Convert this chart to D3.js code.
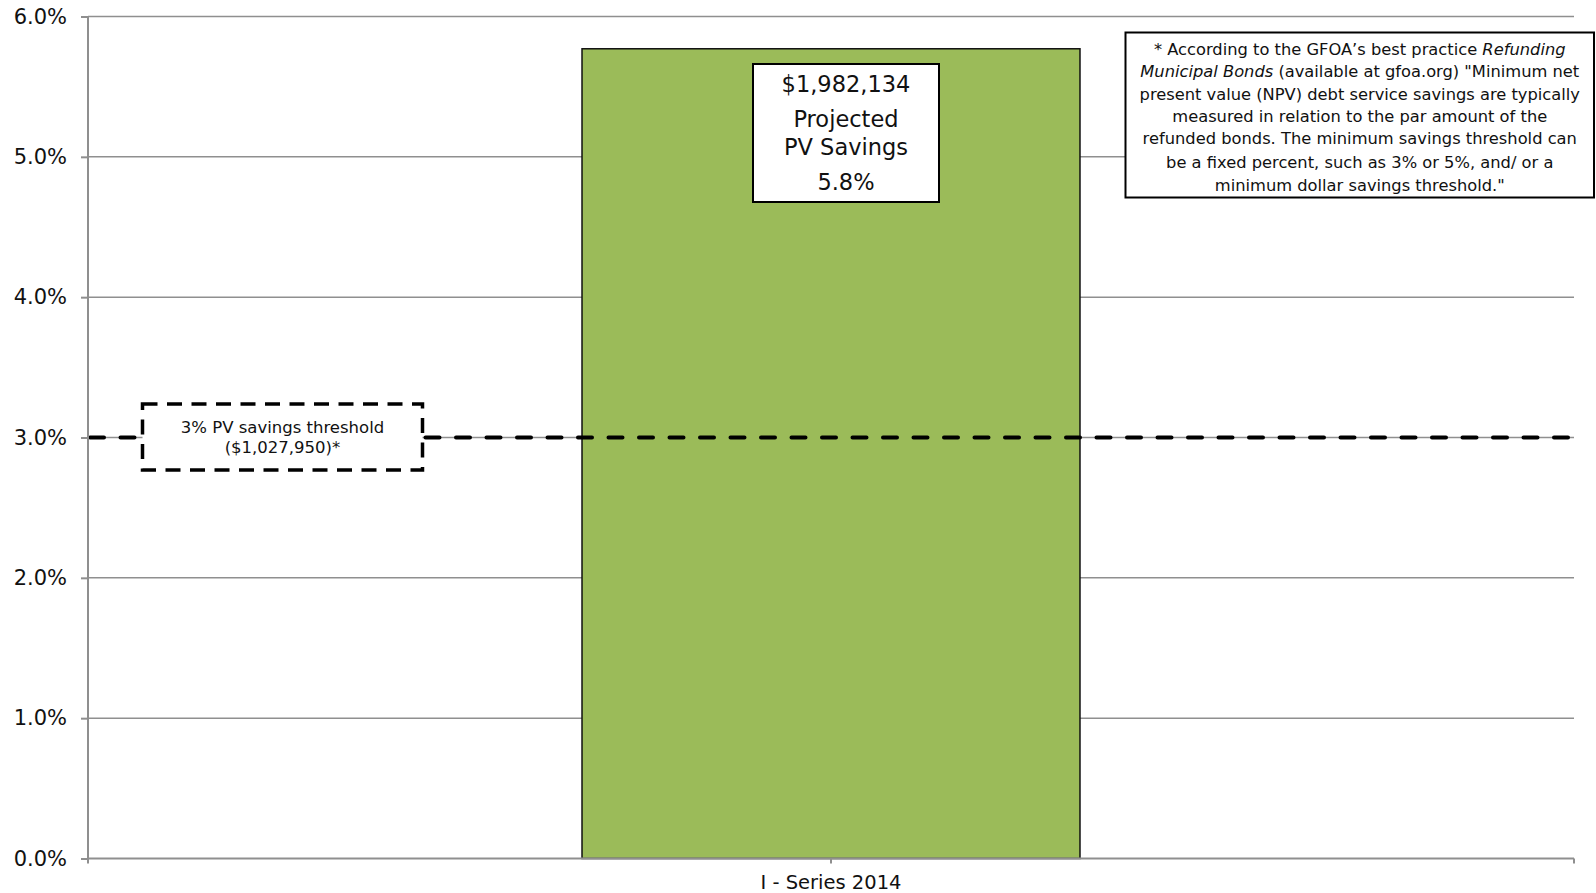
<!DOCTYPE html>
<html>
<head>
<meta charset="utf-8">
<script src="https://cdn.jsdelivr.net/npm/d3@7"></script>
<style>
  html, body { margin: 0; padding: 0; background: #fff; }
  svg { display: block; }
  text { font-family: "DejaVu Sans", "Liberation Sans", sans-serif; fill: #111; }
</style>
</head>
<body>
<svg id="chart" width="1596" height="893"></svg>
<script>
// Refunding savings vs. the 3% present-value threshold
const categories = ["I - Series 2014"];
const savingsPct = [5.77];
const savingsDollars = [1982134];
const thresholdPct = 3;
const thresholdDollars = 1027950;
const yTicks = [0, 1, 2, 3, 4, 5, 6];

// footnote box: each line is a list of [text, italic]
const noteLines = [
  [["* According to the GFOA\u2019s best practice ", false], ["Refunding", true]],
  [["Municipal Bonds", true], [" (available at gfoa.org) \"Minimum net", false]],
  [["present value (NPV) debt service savings are typically", false]],
  [["measured in relation to the par amount of the", false]],
  [["refunded bonds. The minimum savings threshold can", false]],
  [["be a fixed percent, such as 3% or 5%, and/ or a", false]],
  [["minimum dollar savings threshold.\"", false]]
];

const svg = d3.select("#chart");
const margin = { left: 88, right: 22, top: 16.5, bottom: 34.5 };
const W = 1596, H = 893;
const x0 = margin.left, x1 = W - margin.right;
const y0 = H - margin.bottom, y1 = margin.top;

const x = d3.scaleBand().domain(categories).range([x0, x1]).paddingInner(0.498).paddingOuter(0.498);
const y = d3.scaleLinear().domain([0, 6]).range([y0, y1]);

const pctFmt = d3.format(".1f");
const dollarFmt = d3.format("$,");

// horizontal gridlines
svg.append("g")
  .selectAll("line")
  .data(yTicks.filter(d => d > 0))
  .join("line")
  .attr("x1", x0).attr("x2", x1)
  .attr("y1", d => y(d)).attr("y2", d => y(d))
  .attr("stroke", "#8f8f8f")
  .attr("stroke-width", 1.5);

// savings bar
svg.append("g")
  .selectAll("rect")
  .data(categories.map((c, i) => ({ c, v: savingsPct[i] })))
  .join("rect")
  .attr("x", d => x(d.c))
  .attr("width", x.bandwidth())
  .attr("y", d => y(d.v))
  .attr("height", d => y(0) - y(d.v))
  .attr("fill", "#9bbb59")
  .attr("stroke", "#111")
  .attr("stroke-width", 1.5);

// threshold line
svg.append("line")
  .attr("x1", x0 + 2).attr("x2", x1)
  .attr("y1", y(thresholdPct)).attr("y2", y(thresholdPct))
  .attr("stroke", "#000")
  .attr("stroke-width", 4)
  .attr("stroke-linecap", "round")
  .attr("stroke-dasharray", "14 16.5");

// threshold label box
const tb = { x: 142.5, y: 404, w: 280, h: 66 };
svg.append("rect")
  .attr("x", tb.x).attr("y", tb.y).attr("width", tb.w).attr("height", tb.h)
  .attr("fill", "#fff")
  .attr("stroke", "#000")
  .attr("stroke-width", 3.5)
  .attr("stroke-dasharray", "15 9.5");
const tbText = svg.append("text")
  .attr("text-anchor", "middle")
  .attr("font-size", 16.5);
tbText.append("tspan").attr("x", tb.x + tb.w / 2).attr("y", 432.5)
  .text(`${thresholdPct}% PV savings threshold`);
tbText.append("tspan").attr("x", tb.x + tb.w / 2).attr("y", 453)
  .text(`(${dollarFmt(thresholdDollars)})*`);

// savings label box inside the bar, set slightly right of the bar centre
const cx = x(categories[0]) + x.bandwidth() / 2 + 15;
const lb = { w: 186, h: 138, y: 64 };
svg.append("rect")
  .attr("x", cx - lb.w / 2).attr("y", lb.y).attr("width", lb.w).attr("height", lb.h)
  .attr("fill", "#fff")
  .attr("stroke", "#000")
  .attr("stroke-width", 2);
const lbLines = [
  { t: dollarFmt(savingsDollars[0]), y: 92 },
  { t: "Projected", y: 127 },
  { t: "PV Savings", y: 154.5 },
  { t: pctFmt(savingsPct[0]) + "%", y: 190 }
];
svg.append("g")
  .selectAll("text")
  .data(lbLines)
  .join("text")
  .attr("x", cx)
  .attr("y", d => d.y)
  .attr("text-anchor", "middle")
  .attr("font-size", 22.5)
  .text(d => d.t);

// footnote box
const nb = { x: 1125.5, y: 32.5, w: 468.5, h: 165 };
svg.append("rect")
  .attr("x", nb.x).attr("y", nb.y).attr("width", nb.w).attr("height", nb.h)
  .attr("fill", "#fff")
  .attr("stroke", "#000")
  .attr("stroke-width", 2);
const noteY = [54.5, 77, 99.5, 121.5, 144, 168, 190.5];
const note = svg.append("text")
  .attr("text-anchor", "middle")
  .attr("font-size", 16.3);
noteLines.forEach((parts, i) => {
  parts.forEach(([t, it], j) => {
    const ts = note.append("tspan").text(t);
    if (j === 0) ts.attr("x", nb.x + nb.w / 2).attr("y", noteY[i]);
    if (it) ts.attr("font-style", "italic");
  });
});

// y axis
const yAxis = svg.append("g")
  .attr("transform", `translate(${x0},0)`)
  .call(d3.axisLeft(y).tickValues(yTicks).tickSize(7).tickPadding(14)
    .tickFormat(d => pctFmt(d) + "%"));
yAxis.selectAll("line, path").attr("stroke", "#8f8f8f").attr("stroke-width", 2);
yAxis.select(".domain").attr("d", `M0,${y1}V${y0}`);
yAxis.selectAll("text").attr("font-size", 21).attr("font-family", "DejaVu Sans").attr("fill", "#111");

// x axis
const xAxis = svg.append("g")
  .attr("transform", `translate(0,${y0})`)
  .call(d3.axisBottom(x).tickSize(5).tickPadding(12));
xAxis.select(".domain").attr("d", `M${x0},0H${x1}`).attr("stroke", "#8f8f8f").attr("stroke-width", 2);
xAxis.selectAll(".tick line").attr("stroke", "#8f8f8f").attr("stroke-width", 2);
xAxis.selectAll("text").attr("font-size", 19.5).attr("font-family", "DejaVu Sans").attr("fill", "#111");
// edge ticks at the category boundaries
xAxis.selectAll("line.edge")
  .data([x0, x1])
  .join("line")
  .attr("class", "edge")
  .attr("x1", d => d).attr("x2", d => d)
  .attr("y1", 0).attr("y2", 5)
  .attr("stroke", "#8f8f8f").attr("stroke-width", 2);
</script>
</body>
</html>
